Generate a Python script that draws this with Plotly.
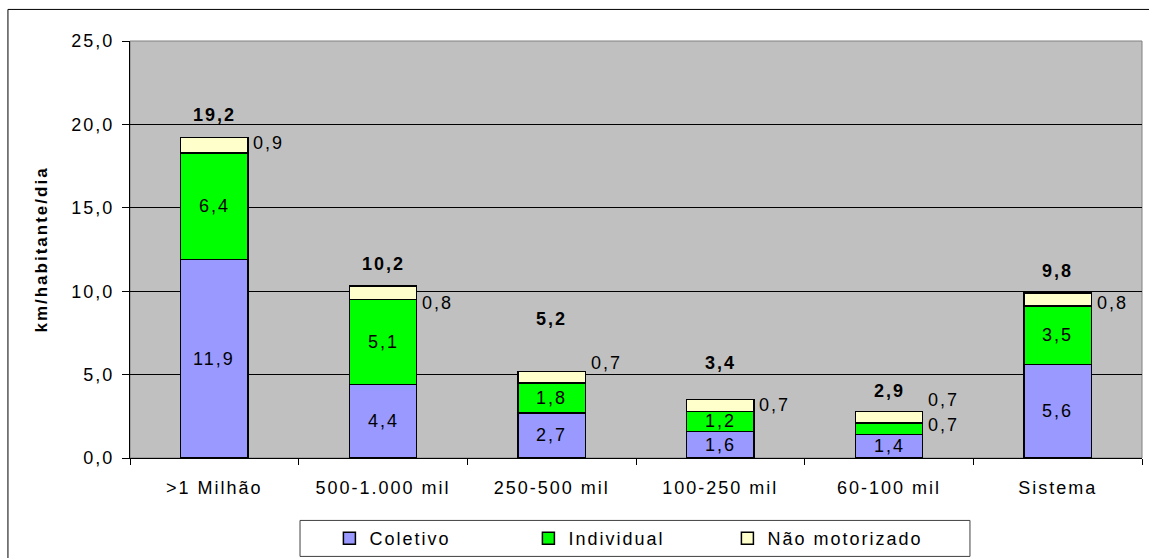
import plotly.graph_objects as go

# Passenger-km per inhabitant per day, by city size class
categorias = [">1 Milhão", "500-1.000 mil", "250-500 mil", "100-250 mil", "60-100 mil", "Sistema"]
coletivo = [11.9, 4.4, 2.7, 1.6, 1.4, 5.6]
individual = [6.4, 5.1, 1.8, 1.2, 0.7, 3.5]
nao_motorizado = [0.9, 0.8, 0.7, 0.7, 0.7, 0.8]
totais = [19.2, 10.2, 5.2, 3.4, 2.9, 9.8]

FONT = "Liberation Sans"
FS = 18


def fmt(v):
    return f"{v:.1f}".replace(".", ",")


fig = go.Figure()
series = [
    ("Coletivo", coletivo, "#9999FF"),
    ("Individual", individual, "#00FF00"),
    ("Não motorizado", nao_motorizado, "#FFFFCC"),
]
for nome, vals, cor in series:
    fig.add_trace(go.Bar(
        x=categorias, y=vals, name=nome,
        marker=dict(color=cor, line=dict(color="#000000", width=1.5)),
        hoverinfo="x+y+name",
    ))

annotations = []
# segment labels: inside the bar, or beside it when the segment is too thin
fora_individual = {4: 4}
nudge_nao = [2, -10, 14, 0, 17, -3]
for i, cat in enumerate(categorias):
    base = 0.0
    for j, (nome, vals, cor) in enumerate(series):
        v = vals[i]
        mid = base + v / 2
        if j == 0 or (j == 1 and i not in fora_individual):
            annotations.append(dict(x=cat, y=mid, text=fmt(v), showarrow=False,
                                    xanchor="center", yanchor="middle",
                                    font=dict(family=FONT, size=FS, color="#000")))
        else:
            shift = nudge_nao[i] if j == 2 else fora_individual[i]
            annotations.append(dict(x=cat, y=mid, text=fmt(v), showarrow=False,
                                    xanchor="left", yanchor="middle",
                                    xshift=40, yshift=shift,
                                    font=dict(family=FONT, size=FS, color="#000")))
        base += v

# totals above each stack
lift = [23, 24, 52, 38, 19, 24]
for i, cat in enumerate(categorias):
    annotations.append(dict(x=cat, y=totais[i], text=f"<b>{fmt(totais[i])}</b>",
                            showarrow=False, xanchor="center", yanchor="middle",
                            yshift=lift[i],
                            font=dict(family=FONT, size=FS, color="#000")))

fig.update_layout(
    barmode="stack",
    bargap=0.6,
    width=1149, height=558,
    margin=dict(l=130, r=7, t=41, b=100),
    paper_bgcolor="#FFFFFF",
    plot_bgcolor="#C0C0C0",
    separators=",.",
    font=dict(family=FONT, size=FS, color="#000"),
    annotations=annotations,
    showlegend=True,
    legend=dict(
        orientation="h", x=0.492, xanchor="center",
        yref="container", y=1 - 520 / 558, yanchor="top",
        bgcolor="rgba(0,0,0,0)", borderwidth=0,
        font=dict(family=FONT, size=FS, color="#000"),
        itemwidth=30,
        entrywidth=154, entrywidthmode="pixels",
        traceorder="normal",
    ),
    shapes=[
        # outer chart frame
        dict(type="rect", xref="paper", yref="paper",
             x0=-0.1206, x1=1.05, y0=-0.4, y1=1.0757,
             line=dict(color="#000000", width=1), fillcolor="rgba(0,0,0,0)", layer="below"),
        # plot area border
        dict(type="rect", xref="paper", yref="paper", x0=0, x1=1, y0=0, y1=1,
             line=dict(color="#808080", width=1), fillcolor="rgba(0,0,0,0)", layer="below"),
        # legend frame
        dict(type="rect", xref="paper", yref="paper",
             x0=0.168, x1=0.830, y0=-0.236, y1=-0.1497,
             line=dict(color="#404040", width=1), fillcolor="#FFFFFF", layer="below"),
    ],
)

fig.update_yaxes(
    range=[0, 25], dtick=5, tickformat=".1f",
    showgrid=True, gridcolor="#000000", gridwidth=1,
    showline=True, linecolor="#000000", linewidth=1,
    ticks="outside", ticklen=7, tickcolor="#000000",
    ticklabelstandoff=4,
    zeroline=False, automargin=False,
    title=dict(text="<b>km/habitante/dia</b>", standoff=27,
               font=dict(family=FONT, size=17, color="#000")),
    tickfont=dict(family=FONT, size=FS, color="#000"),
)
fig.update_xaxes(
    showline=True, linecolor="#000000", linewidth=1,
    ticks="outside", ticklen=6, tickcolor="#000000", tickson="boundaries",
    ticklabelstandoff=13, automargin=False,
    tickfont=dict(family=FONT, size=FS, color="#000"),
)

# wide letter spacing for all chart text
spacing_js = """
var gd = document.getElementById('{plot_id}');
function spread() {
  gd.querySelectorAll('text').forEach(function (t) { t.style.letterSpacing = '2px'; });
}
spread();
gd.on('plotly_afterplot', spread);
"""

fig.write_html("out.html", post_script=spacing_js)
